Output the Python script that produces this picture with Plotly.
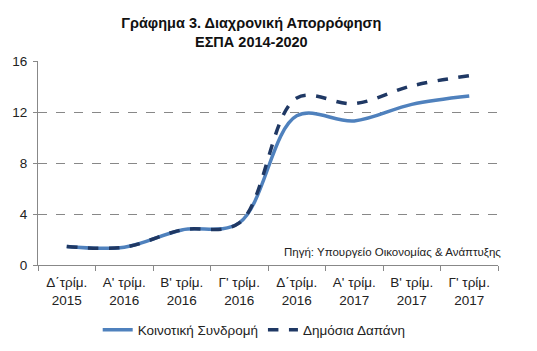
import plotly.graph_objects as go

categories = ["Δ΄τρίμ.<br>2015", "Α' τρίμ.<br>2016", "Β' τρίμ.<br>2016", "Γ' τρίμ.<br>2016",
              "Δ΄τρίμ.<br>2016", "Α' τρίμ.<br>2017", "Β' τρίμ.<br>2017", "Γ' τρίμ.<br>2017"]
koinotiki = [1.45, 1.4, 2.75, 3.3, 11.7, 11.3, 12.6, 13.25]
dimosia = [1.45, 1.4, 2.75, 3.3, 13.1, 12.65, 14.05, 14.85]
y_ticks = [0, 4, 8, 12, 16]

fig = go.Figure()
fig.add_trace(go.Scatter(x=categories, y=koinotiki, mode="lines", name="Κοινοτική Συνδρομή",
                         line=dict(color="#4F81BD", width=3.5, shape="spline", smoothing=1.0)))
fig.add_trace(go.Scatter(x=categories, y=dimosia, mode="lines", name="Δημόσια Δαπάνη",
                         line=dict(color="#1F3864", width=3.5, dash="dash", shape="spline", smoothing=1.0)))

fig.update_layout(
    width=537, height=351,
    margin=dict(l=38, r=39, t=61, b=86),
    paper_bgcolor="white", plot_bgcolor="white",
    font=dict(family="Liberation Sans, Arial", size=13, color="#222222"),
    title=dict(text="<b>Γράφημα 3. Διαχρονική Απορρόφηση<br>ΕΣΠΑ 2014-2020</b>",
               x=0.468, xanchor="center", yref="container", y=0.92, yanchor="top",
               font=dict(family="Liberation Sans, Arial", size=14.5, color="#111111")),
    showlegend=True,
    legend=dict(orientation="h", x=0.47, xanchor="center", yref="container", y=0.06, yanchor="middle",
                font=dict(size=13.5), tracegroupgap=0),
    xaxis=dict(range=[-0.5, 7.5], showgrid=False, showline=True, linecolor="#888888", linewidth=1,
               ticks="outside", tickson="boundaries", ticklen=5, tickcolor="#888888",
               tickfont=dict(size=13.5), ticklabelstandoff=5, automargin=False),
    yaxis=dict(range=[0, 16], tickvals=y_ticks, showgrid=True, gridcolor="#888888",
               griddash="dash", gridwidth=1, zeroline=False, showline=True,
               linecolor="#888888", linewidth=1, ticks="outside", ticklen=4,
               tickcolor="#888888", tickfont=dict(size=13.5), ticklabelstandoff=3,
               automargin=False),
)
fig.add_annotation(text="Πηγή: Υπουργείο Οικονομίας & Ανάπτυξης", xref="paper", yref="paper",
                   x=1.0115, y=0.064, xanchor="right", yanchor="middle", showarrow=False,
                   font=dict(family="Liberation Sans, Arial", size=11.5, color="#222222"))
fig.write_html("out.html")
